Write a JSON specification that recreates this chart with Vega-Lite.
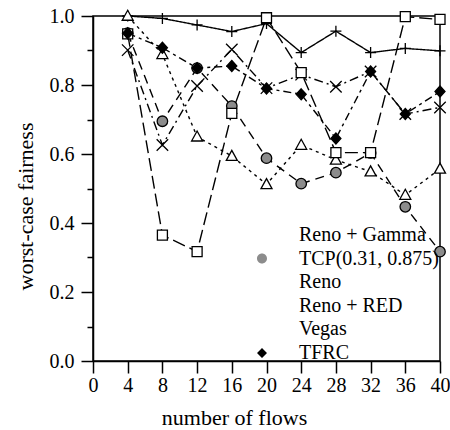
{
  "$schema": "https://vega.github.io/schema/vega-lite/v6.json",
  "width": 347,
  "height": 345,
  "padding": {"left": 14, "top": 6, "right": 6, "bottom": 5},
  "config": {
    "font": "Liberation Serif",
    "view": {"stroke": "black", "strokeWidth": 1.5},
    "axis": {"grid": false, "domainColor": "black", "domainWidth": 1.5, "tickColor": "black", "tickWidth": 1.5, "labelColor": "black", "titleColor": "black", "labelFont": "Liberation Serif", "titleFont": "Liberation Serif", "labelFontSize": 20, "titleFontSize": 22, "titleFontWeight": "normal", "labelFlush": false, "labelOverlap": false},
    "legend": {
      "orient": "none", "legendX": 159, "legendY": 209, "padding": 0,
      "symbolSize": 100, "symbolOffset": 0, "labelOffset": 27, "rowPadding": 3.6,
      "symbolStrokeColor": "black", "symbolStrokeWidth": 1.3, "symbolOpacity": 1,
      "labelFont": "Liberation Serif", "labelFontSize": 20, "labelColor": "black", "labelLimit": 300
    }
  },
  "data": {"values": [
    {"series": "Reno + Gamma", "flows": 4, "fairness": 1.0},
    {"series": "Reno + Gamma", "flows": 8, "fairness": 0.993},
    {"series": "Reno + Gamma", "flows": 12, "fairness": 0.974},
    {"series": "Reno + Gamma", "flows": 16, "fairness": 0.955},
    {"series": "Reno + Gamma", "flows": 20, "fairness": 0.978},
    {"series": "Reno + Gamma", "flows": 24, "fairness": 0.894},
    {"series": "Reno + Gamma", "flows": 28, "fairness": 0.956},
    {"series": "Reno + Gamma", "flows": 32, "fairness": 0.894},
    {"series": "Reno + Gamma", "flows": 36, "fairness": 0.906},
    {"series": "Reno + Gamma", "flows": 40, "fairness": 0.899},
    {"series": "TCP(0.31, 0.875)", "flows": 4, "fairness": 0.95},
    {"series": "TCP(0.31, 0.875)", "flows": 8, "fairness": 0.695},
    {"series": "TCP(0.31, 0.875)", "flows": 12, "fairness": 0.849},
    {"series": "TCP(0.31, 0.875)", "flows": 16, "fairness": 0.739},
    {"series": "TCP(0.31, 0.875)", "flows": 20, "fairness": 0.588},
    {"series": "TCP(0.31, 0.875)", "flows": 24, "fairness": 0.514},
    {"series": "TCP(0.31, 0.875)", "flows": 28, "fairness": 0.546},
    {"series": "TCP(0.31, 0.875)", "flows": 32, "fairness": 0.603},
    {"series": "TCP(0.31, 0.875)", "flows": 36, "fairness": 0.447},
    {"series": "TCP(0.31, 0.875)", "flows": 40, "fairness": 0.317},
    {"series": "Reno", "flows": 4, "fairness": 1.0},
    {"series": "Reno", "flows": 8, "fairness": 0.889},
    {"series": "Reno", "flows": 12, "fairness": 0.65},
    {"series": "Reno", "flows": 16, "fairness": 0.594},
    {"series": "Reno", "flows": 20, "fairness": 0.512},
    {"series": "Reno", "flows": 24, "fairness": 0.626},
    {"series": "Reno", "flows": 28, "fairness": 0.583},
    {"series": "Reno", "flows": 32, "fairness": 0.549},
    {"series": "Reno", "flows": 36, "fairness": 0.481},
    {"series": "Reno", "flows": 40, "fairness": 0.557},
    {"series": "Reno + RED", "flows": 4, "fairness": 0.901},
    {"series": "Reno + RED", "flows": 8, "fairness": 0.626},
    {"series": "Reno + RED", "flows": 12, "fairness": 0.797},
    {"series": "Reno + RED", "flows": 16, "fairness": 0.903},
    {"series": "Reno + RED", "flows": 20, "fairness": 0.791},
    {"series": "Reno + RED", "flows": 24, "fairness": 0.83},
    {"series": "Reno + RED", "flows": 28, "fairness": 0.795},
    {"series": "Reno + RED", "flows": 32, "fairness": 0.839},
    {"series": "Reno + RED", "flows": 36, "fairness": 0.716},
    {"series": "Reno + RED", "flows": 40, "fairness": 0.735},
    {"series": "Vegas", "flows": 4, "fairness": 0.948},
    {"series": "Vegas", "flows": 8, "fairness": 0.365},
    {"series": "Vegas", "flows": 12, "fairness": 0.317},
    {"series": "Vegas", "flows": 16, "fairness": 0.718},
    {"series": "Vegas", "flows": 20, "fairness": 0.995},
    {"series": "Vegas", "flows": 24, "fairness": 0.836},
    {"series": "Vegas", "flows": 28, "fairness": 0.604},
    {"series": "Vegas", "flows": 32, "fairness": 0.604},
    {"series": "Vegas", "flows": 36, "fairness": 0.998},
    {"series": "Vegas", "flows": 40, "fairness": 0.99},
    {"series": "TFRC", "flows": 4, "fairness": 0.95},
    {"series": "TFRC", "flows": 8, "fairness": 0.908},
    {"series": "TFRC", "flows": 12, "fairness": 0.849},
    {"series": "TFRC", "flows": 16, "fairness": 0.855},
    {"series": "TFRC", "flows": 20, "fairness": 0.79},
    {"series": "TFRC", "flows": 24, "fairness": 0.773},
    {"series": "TFRC", "flows": 28, "fairness": 0.645},
    {"series": "TFRC", "flows": 32, "fairness": 0.839},
    {"series": "TFRC", "flows": 36, "fairness": 0.716},
    {"series": "TFRC", "flows": 40, "fairness": 0.781}
  ]},
  "encoding": {
    "x": {"field": "flows", "type": "quantitative",
      "scale": {"domain": [0, 40], "nice": false, "zero": false},
      "axis": {"values": [0, 4, 8, 12, 16, 20, 24, 28, 32, 36, 40], "tickSize": 12, "labelPadding": 2, "title": "number of flows", "titlePadding": 12, "titleX": 141}},
    "y": {"field": "fairness", "type": "quantitative",
      "scale": {"domain": [0, 1], "nice": false},
      "axis": {"values": [0, 0.1, 0.2, 0.3, 0.4, 0.5, 0.6, 0.7, 0.8, 0.9, 1.0],
        "labelExpr": "round(datum.value * 10) % 2 === 0 ? format(datum.value, '.1f') : ''",
        "tickSize": {"condition": {"test": "round(datum.value * 10) % 2 === 0", "value": 12}, "value": 6},
        "labelPadding": 7, "title": "worst-case fairness", "titlePadding": 12, "titleY": 190}}
  },
  "resolve": {
    "scale": {"shape": "independent", "fill": "independent"},
    "legend": {"shape": "independent", "fill": "independent"}
  },
  "layer": [
    {
      "mark": {"type": "line", "stroke": "black", "strokeWidth": 1.4},
      "encoding": {
        "strokeDash": {"field": "series", "type": "nominal",
          "scale": {"domain": ["TFRC", "Vegas", "Reno + RED", "Reno", "TCP(0.31, 0.875)", "Reno + Gamma"],
            "range": [[8, 4, 3, 4], [13, 5], [9, 4, 2, 4], [3, 4], [9, 6], [1, 0]]},
          "legend": null}
      }
    },
    {
      "mark": {"type": "point", "filled": true, "stroke": "black", "strokeWidth": 1.3, "opacity": 1, "size": 100},
      "encoding": {
        "shape": {"field": "series", "type": "nominal",
          "scale": {"domain": ["TFRC", "Vegas", "Reno + RED", "Reno", "TCP(0.31, 0.875)", "Reno + Gamma"],
            "range": ["M0,-1.1L1,0L0,1.1L-1,0Z", "M-1,-1L1,-1L1,1L-1,1Z", "M-1.15,-1.15L1.15,1.15M-1.15,1.15L1.15,-1.15", "M0,-1.15L1.1,0.85L-1.1,0.85Z", "M1.05,0A1.05,1.05 0 1,1 -1.05,0A1.05,1.05 0 1,1 1.05,0Z", "M-1.1,0L1.1,0M0,-1.1L0,1.1"]},
          "legend": null},
        "fill": {"field": "series", "type": "nominal",
          "scale": {"domain": ["TFRC", "Vegas", "Reno + RED", "Reno", "TCP(0.31, 0.875)", "Reno + Gamma"],
            "range": ["black", "white", "white", "white", "#8c8c8c", "white"]},
          "legend": null}
      }
    },
    {
      "transform": [{"filter": "false"}],
      "mark": {"type": "point", "filled": true, "stroke": "black", "strokeWidth": 1.3, "opacity": 1, "size": 100},
      "encoding": {
        "shape": {"field": "series", "type": "nominal",
          "scale": {"domain": ["Reno + Gamma", "TCP(0.31, 0.875)", "Reno", "Reno + RED", "Vegas", "TFRC"],
            "range": [
              "M-6.3,0L5.7,0M0,-0.9L0,0.9",
              "M-6.3,0L-4.5,0M-3.1,0L-2,0M1,0A1,1 0 1,1 -1,0A1,1 0 1,1 1,0ZM1,0L3.5,0M5,0L5.4,0",
              "M-6.3,0L-5.7,0M-4.9,0L-4.3,0M-3.5,0L-2.9,0M-2.1,0L-1.3,0M0,-0.95L0.95,0.75L-0.95,0.75ZM1.3,0L2.1,0M2.9,0L3.5,0M4.3,0L4.9,0M5.5,0L5.9,0",
              "M-6.3,0L-4.5,0M-3.1,0L-2.3,0M-1,-0.9L1,0.9M-1,0.9L1,-0.9M1.2,0L1.8,0M2.9,0L3.2,0M5,0L5.3,0",
              "M-6.3,0L-1,0M-1,-1L1,-1L1,1L-1,1ZM1,0L5.7,0",
              "M-6.3,0L-4.5,0M-3.1,0L-2.3,0M0,-1L1,0L0,1L-1,0ZM1,0L3.5,0M5,0L5.7,0"
            ]},
          "legend": {"title": null}},
        "fill": {"field": "series", "type": "nominal",
          "scale": {"domain": ["Reno + Gamma", "TCP(0.31, 0.875)", "Reno", "Reno + RED", "Vegas", "TFRC"],
            "range": ["white", "#8c8c8c", "white", "white", "white", "black"]},
          "legend": {"title": null}}
      }
    }
  ]
}
